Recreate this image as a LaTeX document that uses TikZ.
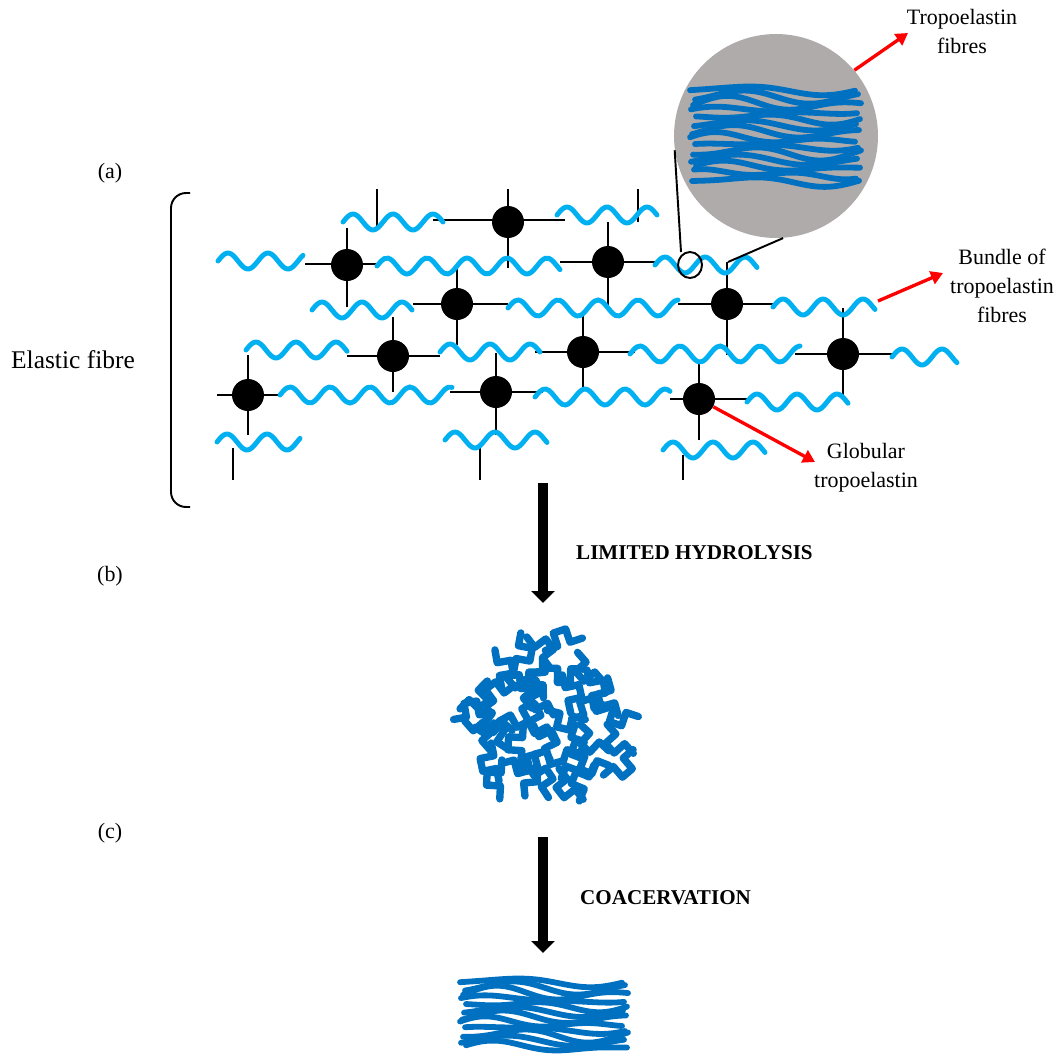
\documentclass[tikz,border=0pt]{standalone}
\usepackage{fontspec}
\setmainfont{Liberation Serif}
\usetikzlibrary{arrows.meta}
\definecolor{fibreblue}{RGB}{0,176,240}
\definecolor{strandblue}{RGB}{0,112,192}
\definecolor{lensgrey}{RGB}{175,171,171}
\tikzstyle{cross link}=[line width=1.1pt,draw=black]
\tikzstyle{chain}=[line width=2.8pt,draw=fibreblue,line cap=round]
\tikzstyle{strand}=[line width=3.3pt,draw=strandblue,line cap=round]
\tikzstyle{coil}=[line width=4.2pt,draw=strandblue,line cap=round,line join=round]
\tikzstyle{knot}=[circle,fill=black,inner sep=0,minimum size=0.64cm]
\tikzstyle{pointer}=[line width=1.9pt,draw=red,-{Triangle[width=0.27cm,length=0.24cm]}]
\tikzstyle{process}=[line width=0.2cm,-{Triangle[width=0.46cm,length=0.24cm]}]
\tikzstyle{caption}=[align=center,font=\fontsize{12.5}{16.5}\selectfont]
\tikzstyle{step label}=[anchor=west,font=\bfseries\fontsize{12}{14}\selectfont]

% one wavy tropoelastin chain: from x=#1 to x=#2 around height #3 (period 40)
\newcommand{\chainwave}[3]{%
  \draw[chain] plot[domain=#1:#2,samples=50,smooth] (\x,{#3-8*sin((\x-#1)*9)});}

% a bundle of #4+1 strands between x=#1 and x=#2, first one at #3, spaced #5
\newcommand{\bundle}[5]{%
  \foreach \k in {0,...,#4}{
    \pgfmathsetmacro\yk{#3+\k*#5}
    \pgfmathsetmacro\ak{1.5+mod(\k*7,5)*0.7}
    \pgfmathsetmacro\pk{mod(\k*83,360)}
    \pgfmathsetmacro\sa{#1+mod(\k*5,7)-3}
    \pgfmathsetmacro\sb{#2+mod(\k*3,7)-3}
    \draw[strand] plot[domain=\sa:\sb,samples=40,smooth]
      (\x,{\yk+4*sin((\x-#1)/(#2-#1)*360+180)+\ak*sin((\x-#1)/(#2-#1)*540+\pk)});
  }}

\begin{document}
\begin{tikzpicture}[x=0.02cm,y=-0.02cm]
  \useasboundingbox (0,0) rectangle (1061,1055);

  % Labels of the three stages
  \node[caption] (tag a) at (110,173) {(a)};
  \node[caption] (tag b) at (110,576) {(b)};
  \node[caption] (tag c) at (110,833) {(c)};
  \node[font=\fontsize{14.5}{17}\selectfont] (elastic) at (73,360) {Elastic fibre};

  % Bracket round the network
  \draw[cross link,rounded corners=0.3cm] (190,193) -- (171,193) -- (171,507) -- (190,507);

  % Cross-links (vertical)
  \draw[cross link] (377,189) -- (377,228);
  \draw[cross link] (508,189) -- (508,268);
  \draw[cross link] (638,189) -- (638,222);
  \draw[cross link] (608,222) -- (608,307);
  \draw[cross link] (347,228) -- (347,307);
  \draw[cross link] (457,268) -- (457,345);
  \draw[cross link] (393,317) -- (393,392);
  \draw[cross link] (583,312) -- (583,392);
  \draw[cross link] (248,355) -- (248,435);
  \draw[cross link] (496,353) -- (496,435);
  \draw[cross link] (233,448) -- (233,480);
  \draw[cross link] (480,445) -- (480,480);
  \draw[cross link] (727,262) -- (727,355);
  \draw[cross link] (843,308) -- (843,398);
  \draw[cross link] (699,360) -- (699,440);
  \draw[cross link] (683,455) -- (683,480);
  % Cross-links (horizontal)
  \draw[cross link] (433,220) -- (565,220);
  \draw[cross link] (305,264) -- (377,264);
  \draw[cross link] (560,262) -- (655,262);
  \draw[cross link] (413,304) -- (508,304);
  \draw[cross link] (347,356) -- (440,356);
  \draw[cross link] (535,352) -- (635,352);
  \draw[cross link] (217,395) -- (282,395);
  \draw[cross link] (450,392) -- (543,392);
  \draw[cross link] (678,304) -- (773,304);
  \draw[cross link] (795,354) -- (892,354);
  \draw[cross link] (670,399) -- (747,399);

  % Chains, row by row
  \chainwave{343}{443}{222}
  \chainwave{557}{657}{215}
  \chainwave{218}{303}{261}
  \chainwave{377}{560}{266}
  \chainwave{655}{757}{265}
  \chainwave{312}{412}{310}
  \chainwave{508}{678}{308}
  \chainwave{773}{875}{307}
  \chainwave{246}{347}{350}
  \chainwave{440}{540}{352}
  \chainwave{630}{800}{354}
  \chainwave{892}{957}{357}
  \chainwave{280}{452}{395}
  \chainwave{535}{670}{397}
  \chainwave{747}{848}{402}
  \chainwave{217}{300}{442}
  \chainwave{445}{547}{440}
  \chainwave{663}{765}{450}

  % Globular tropoelastin knots
  \foreach \n/\p in {1/{347,265},2/{508,222},3/{608,262},4/{457,304},5/{248,395},
      6/{393,356},7/{583,352},8/{496,392},9/{727,304},10/{843,354},11/{699,399}}
    \node[knot] (k\n) at (\p) {};

  % Magnifying lens
  \node[circle,fill=lensgrey,minimum size=4.08cm,inner sep=0] (lens) at (776,136) {};
  \draw[cross link] (690,265) ellipse [x radius=0.24cm,y radius=0.26cm];
  \draw[cross link] (lens.188) -- (681,252);
  \draw[cross link] (lens.-86) -- (728,262);
  \bundle{693}{858}{90}{13}{7}

  % Pointers to the labels
  \node[caption] (fibres lbl) at (962,31) {Tropoelastin\\fibres};
  \node[caption] (bundle lbl) at (1002,286) {Bundle of\\tropoelastin\\fibres};
  \node[caption] (globular lbl) at (866,468) {Globular\\tropoelastin};
  \coordinate (tip fibres) at (908,33);
  \coordinate (bundle tail) at (878,301);
  \coordinate (tip bundle) at (943,273);
  \coordinate (tip globular) at (815,462);
  \draw[pointer] (lens.40) -- (tip fibres);
  \draw[pointer] (bundle tail) -- (tip bundle);
  \draw[pointer] (k11) -- (tip globular);

  % Limited hydrolysis
  \coordinate (h0) at (543,483);
  \coordinate (h1) at (543,603);
  \draw[process] (h0) -- (h1);
  \node[step label] (hydrolysis) at (570,553) {LIMITED HYDROLYSIS};

  % Coiled globule: one small meander per grid point inside the ellipse
  \pgfmathsetseed{7}
  \foreach \gx in {472,496,...,628}{
    \foreach \gy in {650,672,...,794}{
      \pgfmathtruncatemacro\inside{((\gx-548)/86)^2+((\gy-720)/78)^2<1 ? 1 : 0}
      \ifnum\inside=1
        \pgfmathsetmacro\ang{rnd*360}
        \pgfmathsetmacro\sx{\gx+6*rand-19*cos(\ang)}
        \pgfmathsetmacro\sy{\gy+6*rand-19*sin(\ang)}
        \draw[coil] (\sx,\sy) --++ (\ang:13) --++ (\ang+90:14) --++ (\ang:13)
          --++ (\ang-90:14) --++ (\ang:13);
      \fi
    }
  }

  % Coacervation
  \coordinate (c0) at (543,837);
  \coordinate (c1) at (543,953);
  \draw[process] (c0) -- (c1);
  \node[step label] (coacervation) at (574,898) {COACERVATION};

  % Aligned fibres
  \bundle{463}{625}{982}{11}{5.9}
\end{tikzpicture}
\end{document}
